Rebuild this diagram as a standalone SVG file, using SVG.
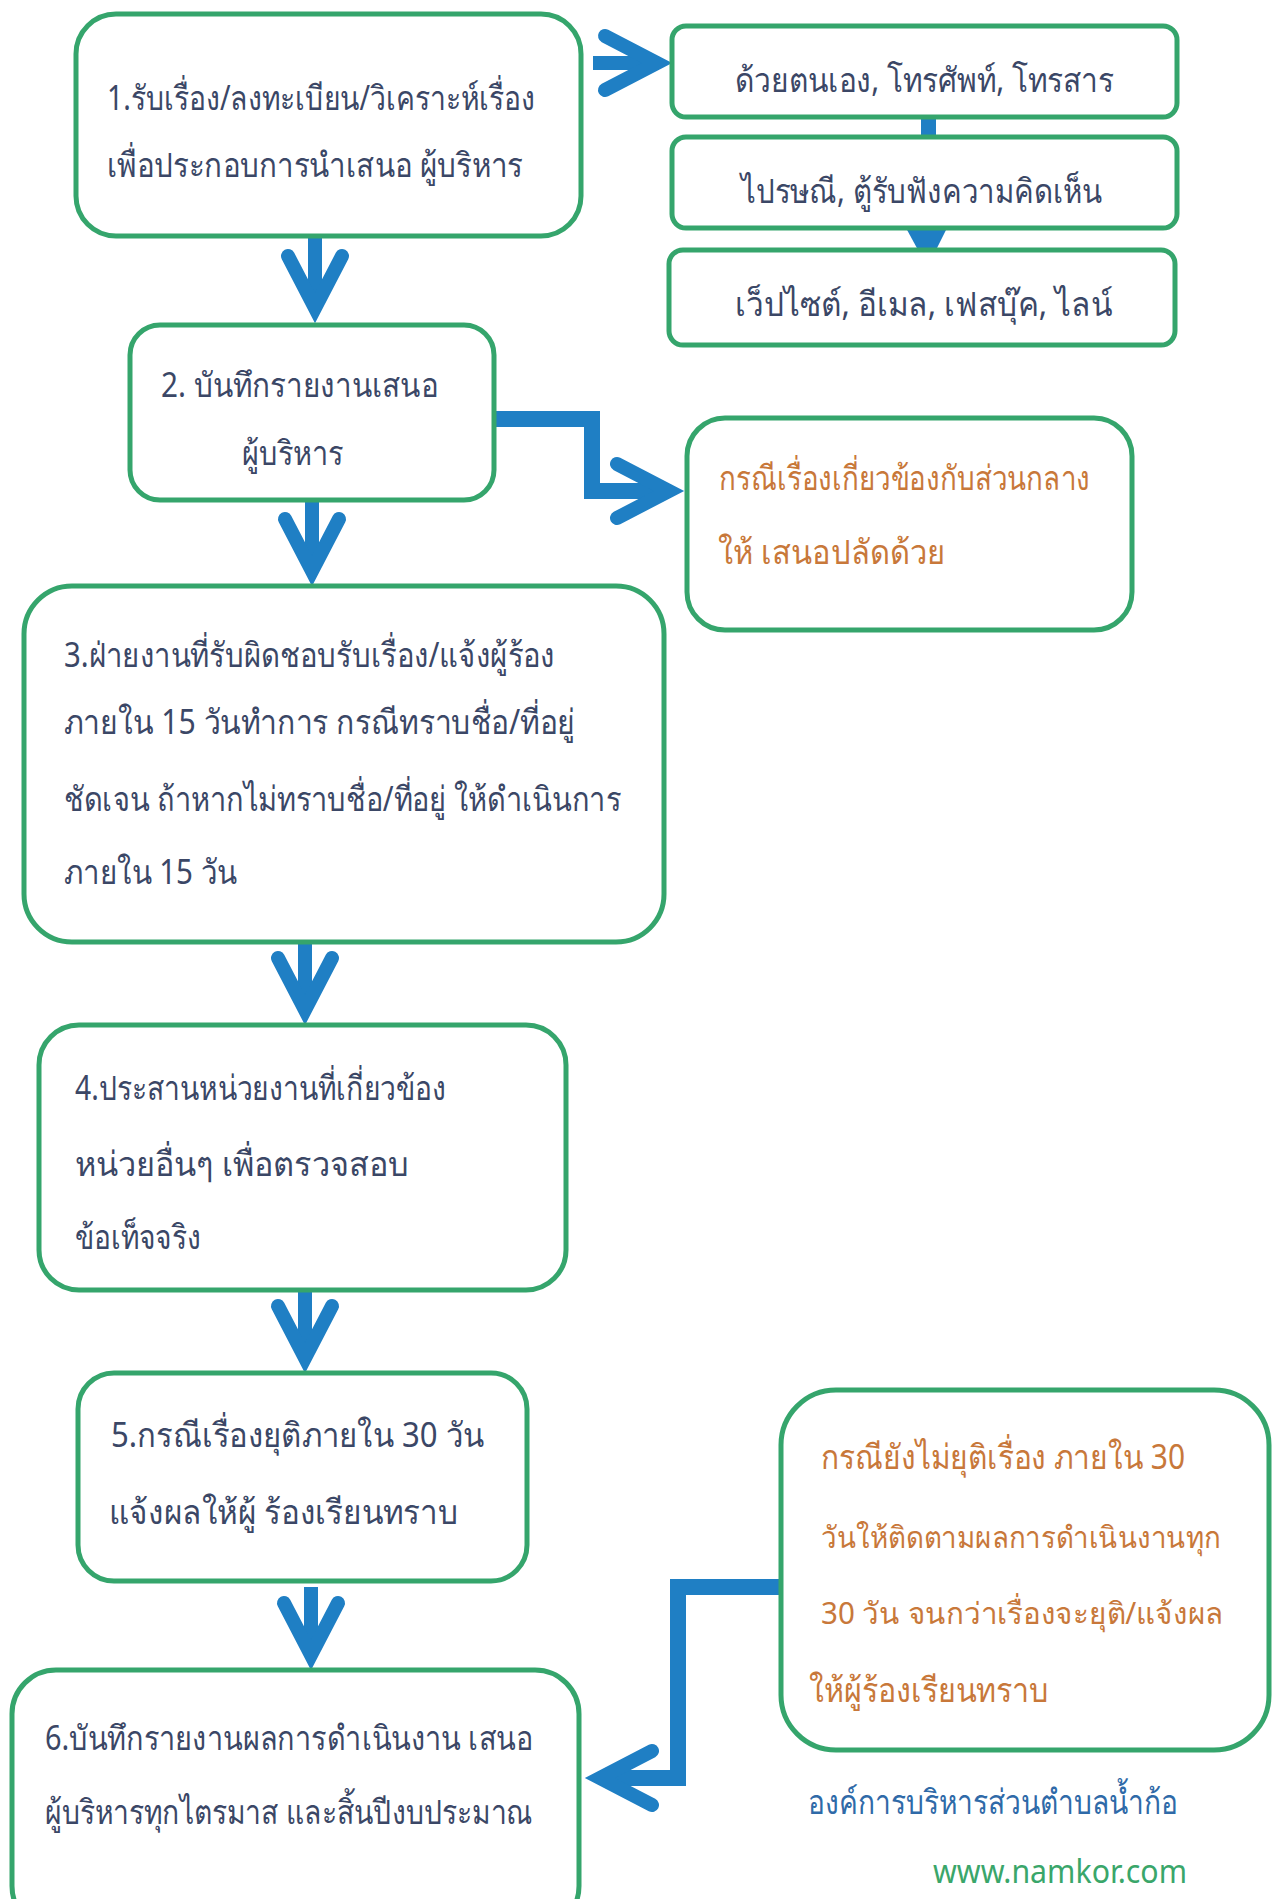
<svg xmlns="http://www.w3.org/2000/svg" width="1273" height="1899" viewBox="0 0 1273 1899">
<style>
.box{fill:#ffffff;stroke:#35a56c;stroke-width:5}
.t{font-family:"Noto Sans","Liberation Sans",sans-serif;font-size:34px;fill:#3b4766}
.o{font-family:"Noto Sans","Liberation Sans",sans-serif;font-size:34px;fill:#c8783a}
.os{font-size:30px}
.conn{fill:none;stroke:#1f7fc4;stroke-width:14;marker-end:url(#ah)}
.el{fill:none;stroke:#1f7fc4;stroke-width:16;stroke-linejoin:miter}
</style>
<defs>
<marker id="ah" markerUnits="userSpaceOnUse" orient="auto" overflow="visible" refX="0" refY="0" markerWidth="1" markerHeight="1">
<path d="M-52,-27 L0,0 L-52,27" fill="none" stroke="#1f7fc4" stroke-width="14" stroke-linecap="round" stroke-linejoin="miter"/>
</marker>
</defs>
<rect width="1273" height="1899" fill="#ffffff"/>
<g id="connectors">
<path class="conn" d="M315,238 V308"/>
<path class="conn" d="M593,63 H657"/>
<rect x="921" y="117" width="15" height="20" fill="#1f7fc4"/>
<polygon points="906,228 947,228 936,250 918,250" fill="#1f7fc4"/>
<path class="el" d="M494,419 H592 V491 H669" marker-end="url(#ah)"/>
<path class="conn" d="M312,500 V571"/>
<path class="conn" d="M305,942 V1010"/>
<path class="conn" d="M305,1290 V1358"/>
<path class="conn" d="M311,1587 V1655"/>
<path class="el" d="M781,1587 H678 V1778 H600" marker-end="url(#ah)"/>
</g>
<g id="n1"><rect class="box" x="76" y="14" width="505" height="222" rx="40"/>
<text class="t" x="107" y="110" textLength="428" lengthAdjust="spacingAndGlyphs">1.รับเรื่อง/ลงทะเบียน/วิเคราะห์เรื่อง</text>
<text class="t" x="107" y="177" textLength="416" lengthAdjust="spacingAndGlyphs">เพื่อประกอบการนำเสนอ ผู้บริหาร</text></g>
<g id="nA"><rect class="box" x="672" y="26" width="505" height="91" rx="14"/>
<text class="t" x="735" y="92" textLength="379" lengthAdjust="spacingAndGlyphs">ด้วยตนเอง, โทรศัพท์, โทรสาร</text></g>
<g id="nB"><rect class="box" x="672" y="137" width="505" height="91" rx="14"/>
<text class="t" x="741" y="203" textLength="361" lengthAdjust="spacingAndGlyphs">ไปรษณี, ตู้รับฟังความคิดเห็น</text></g>
<g id="nC"><rect class="box" x="669" y="250" width="506" height="95" rx="14"/>
<text class="t" x="735" y="316" textLength="377" lengthAdjust="spacingAndGlyphs">เว็ปไซต์, อีเมล, เฟสบุ๊ค, ไลน์</text></g>
<g id="n2"><rect class="box" x="130" y="325" width="364" height="175" rx="30"/>
<text class="t" x="161" y="397" textLength="277" lengthAdjust="spacingAndGlyphs">2. บันทึกรายงานเสนอ</text>
<text class="t" x="242" y="465" textLength="101" lengthAdjust="spacingAndGlyphs">ผู้บริหาร</text></g>
<g id="nD"><rect class="box" x="687" y="418" width="445" height="212" rx="38"/>
<text class="o" x="719" y="490" textLength="371" lengthAdjust="spacingAndGlyphs">กรณีเรื่องเกี่ยวข้องกับส่วนกลาง</text>
<text class="o" x="718" y="564" textLength="227" lengthAdjust="spacingAndGlyphs">ให้ เสนอปลัดด้วย</text></g>
<g id="n3"><rect class="box" x="24" y="586" width="640" height="356" rx="48"/>
<text class="t" x="64" y="667" textLength="491" lengthAdjust="spacingAndGlyphs">3.ฝ่ายงานที่รับผิดชอบรับเรื่อง/แจ้งผู้ร้อง</text>
<text class="t" x="64" y="734" textLength="511" lengthAdjust="spacingAndGlyphs">ภายใน 15 วันทำการ   กรณีทราบชื่อ/ที่อยู่</text>
<text class="t" x="64" y="811" textLength="557" lengthAdjust="spacingAndGlyphs">ชัดเจน ถ้าหากไม่ทราบชื่อ/ที่อยู่ ให้ดำเนินการ</text>
<text class="t" x="64" y="884" textLength="173" lengthAdjust="spacingAndGlyphs">ภายใน 15 วัน</text></g>
<g id="n4"><rect class="box" x="39" y="1025" width="527" height="265" rx="40"/>
<text class="t" x="75" y="1100" textLength="371" lengthAdjust="spacingAndGlyphs">4.ประสานหน่วยงานที่เกี่ยวข้อง</text>
<text class="t" x="75" y="1176" textLength="334" lengthAdjust="spacingAndGlyphs">หน่วยอื่นๆ   เพื่อตรวจสอบ</text>
<text class="t" x="75" y="1249" textLength="126" lengthAdjust="spacingAndGlyphs">ข้อเท็จจริง</text></g>
<g id="n5"><rect class="box" x="78" y="1373" width="449" height="208" rx="36"/>
<text class="t" x="111" y="1447" textLength="373" lengthAdjust="spacingAndGlyphs">5.กรณีเรื่องยุติภายใน   30  วัน</text>
<text class="t" x="109" y="1524" textLength="349" lengthAdjust="spacingAndGlyphs">แจ้งผลให้ผู้   ร้องเรียนทราบ</text></g>
<g id="n6"><rect class="box" x="12" y="1670" width="567" height="260" rx="44"/>
<text class="t" x="45" y="1750" textLength="488" lengthAdjust="spacingAndGlyphs">6.บันทึกรายงานผลการดำเนินงาน เสนอ</text>
<text class="t" x="45" y="1824" textLength="488" lengthAdjust="spacingAndGlyphs">ผู้บริหารทุกไตรมาส และสิ้นปีงบประมาณ</text></g>
<g id="nE"><rect class="box" x="781" y="1390" width="488" height="360" rx="55"/>
<text class="o" x="821" y="1469" textLength="364" lengthAdjust="spacingAndGlyphs">กรณียังไม่ยุติเรื่อง ภายใน 30</text>
<text class="o os" x="821" y="1548" textLength="400" lengthAdjust="spacingAndGlyphs">วันให้ติดตามผลการดำเนินงานทุก</text>
<text class="o os" x="821" y="1624" textLength="402" lengthAdjust="spacingAndGlyphs">30  วัน  จนกว่าเรื่องจะยุติ/แจ้งผล</text>
<text class="o" x="809" y="1702" textLength="240" lengthAdjust="spacingAndGlyphs">ให้ผู้ร้องเรียนทราบ</text></g>
<g id="footer">
<text x="808" y="1814" textLength="370" lengthAdjust="spacingAndGlyphs" style="font-family:'Noto Sans','Liberation Sans',sans-serif;font-size:34px;fill:#2f6aa8">องค์การบริหารส่วนตำบลน้ำก้อ</text>
<text x="933" y="1883" textLength="254" lengthAdjust="spacingAndGlyphs" style="font-family:'Noto Sans','Liberation Sans',sans-serif;font-size:32px;fill:#3aa66a">www.namkor.com</text>
</g>
</svg>
